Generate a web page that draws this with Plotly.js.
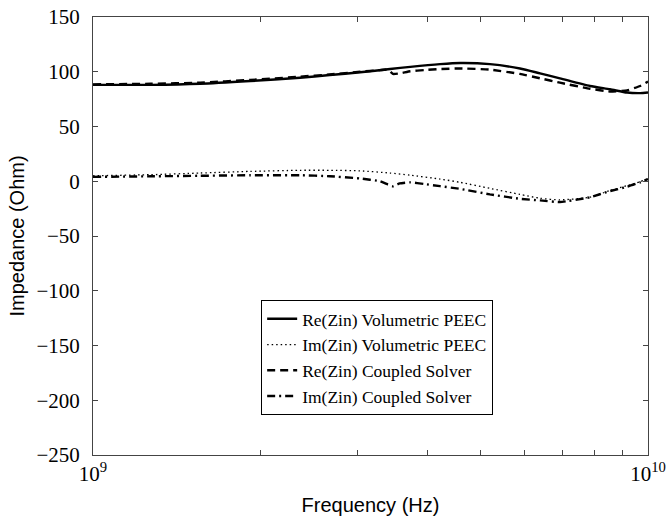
<!DOCTYPE html>
<html>
<head>
<meta charset="utf-8">
<script src="https://cdn.plot.ly/plotly-3.0.1.min.js"></script>
<style>html,body{margin:0;padding:0;background:#fff;}#chart{width:666px;height:516px;}</style>
</head>
<body>
<div id="chart"></div>
<script>
// Input impedance of the structure versus frequency, two solvers compared.
const freqPeec = [1e9, 1.27e9, 1.56e9, 1.92e9, 2.36e9, 2.67e9, 3.03e9, 3.43e9, 3.73e9, 4.22e9, 4.59e9,
                  5.19e9, 5.88e9, 6.39e9, 6.94e9, 7.86e9, 8.54e9, 9.17e9, 9.68e9, 1e10];
const reZinPeec = [88, 88, 89, 91.5, 94.5, 97, 99.5, 102.5, 104.5, 107, 108,
                   107, 103, 98.5, 94, 87, 84, 81, 80.5, 81];
const imZinPeec = [5, 6, 7.5, 9, 10, 10, 9.5, 7.5, 5.5, 2, -1,
                   -6.5, -12, -15.5, -17, -14.5, -8.5, -4, -0.5, 2.5];

const freqCoupled = [1e9, 1.27e9, 1.56e9, 1.92e9, 2.36e9, 2.67e9, 3.03e9, 3.29e9, 3.40e9, 3.47e9, 3.57e9,
                     3.73e9, 3.95e9, 4.22e9, 4.59e9, 5.19e9, 5.88e9, 6.39e9, 6.94e9, 7.86e9, 8.54e9,
                     9.17e9, 9.68e9, 1e10];
const reZinCoupled = [88.5, 89, 90, 92.5, 95.5, 97.5, 100, 101.5, 102, 98, 98.5,
                      100.5, 101.5, 102.5, 103, 102, 98, 94, 90, 84.5, 82,
                      83, 87, 91];
const imZinCoupled = [4, 4.5, 5, 5.5, 5.5, 4.6, 2.5, 0, -3, -4.6, -2,
                      -1, -2.5, -4.5, -7, -12, -16, -17.5, -19, -14.6, -9,
                      -5, -1, 2];

const seriesNames = ['Re(Zin) Volumetric PEEC', 'Im(Zin) Volumetric PEEC',
                     'Re(Zin) Coupled Solver', 'Im(Zin) Coupled Solver'];

const xTickVals = [1e9, 1e10];
const xTickText = ['10<sup>9</sup>', '10<sup>10</sup>'];
const yTickVals = [-250, -200, -150, -100, -50, 0, 50, 100, 150];

const traces = [
  {x: freqPeec, y: reZinPeec, name: seriesNames[0], mode: 'lines',
   line: {color: '#000', width: 2.4, shape: 'spline', smoothing: 0.6}},
  {x: freqPeec, y: imZinPeec, name: seriesNames[1], mode: 'lines',
   line: {color: '#000', width: 1.3, dash: '1.5px,3px', shape: 'spline', smoothing: 0.6}},
  {x: freqCoupled, y: reZinCoupled, name: seriesNames[2], mode: 'lines',
   line: {color: '#000', width: 2.4, dash: '8px,5px', shape: 'spline', smoothing: 0.4}},
  {x: freqCoupled, y: imZinCoupled, name: seriesNames[3], mode: 'lines',
   line: {color: '#000', width: 2.4, dash: '8px,4px,2px,4px', shape: 'spline', smoothing: 0.4}}
];

const serif = 'Liberation Serif, Times New Roman, serif';
const sans = 'Liberation Sans, Arial, sans-serif';

const layout = {
  width: 666, height: 516,
  margin: {l: 93, r: 18, t: 17, b: 61},
  paper_bgcolor: '#fff', plot_bgcolor: '#fff',
  showlegend: true,
  legend: {
    x: 0.303, y: 0.354, xanchor: 'left', yanchor: 'top',
    bgcolor: '#fff', bordercolor: '#000', borderwidth: 1,
    font: {family: serif, size: 17.5, color: '#000'},
    tracegroupgap: 0, itemwidth: 30
  },
  xaxis: {
    type: 'log', range: [9, 10],
    tickvals: xTickVals, ticktext: xTickText,
    ticks: 'inside', ticklen: 5, tickcolor: '#444',
    minor: {ticks: 'inside', ticklen: 5, tickcolor: '#444', dtick: 'D1', showgrid: false},
    showline: true, linecolor: '#444', linewidth: 1, mirror: 'ticks',
    showgrid: false, zeroline: false,
    tickfont: {family: serif, size: 21, color: '#000'},
    title: {text: 'Frequency (Hz)', font: {family: sans, size: 20, color: '#000'}, standoff: 12}
  },
  yaxis: {
    range: [-250, 150], tickvals: yTickVals,
    ticks: 'inside', ticklen: 5, tickcolor: '#444',
    showline: true, linecolor: '#444', linewidth: 1, mirror: 'ticks',
    showgrid: false, zeroline: false,
    ticklabelstandoff: 8,
    tickfont: {family: serif, size: 21, color: '#000'},
    title: {text: 'Impedance (Ohm)', font: {family: sans, size: 20, color: '#000'}, standoff: 6}
  }
};

Plotly.newPlot('chart', traces, layout, {displayModeBar: false, staticPlot: true});
</script>
</body>
</html>
